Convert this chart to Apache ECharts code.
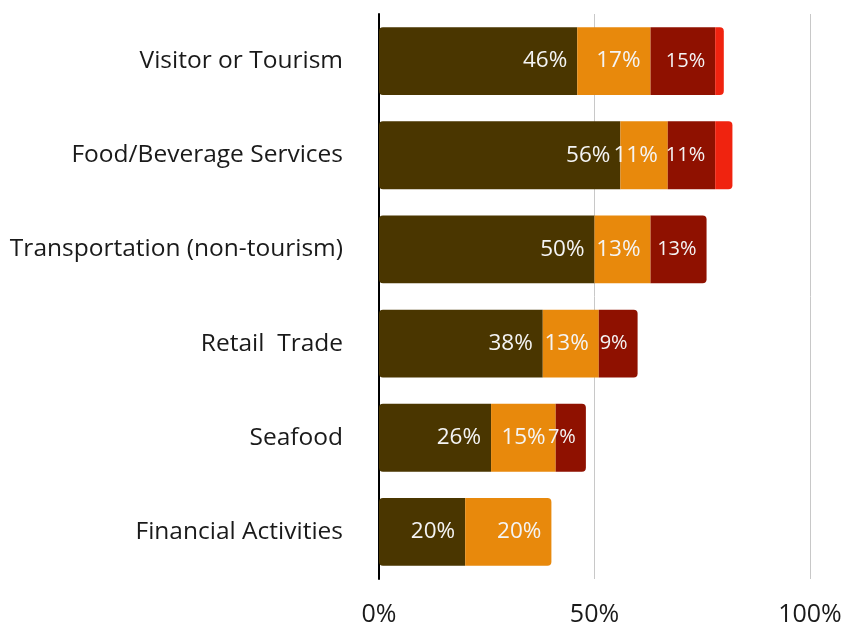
<!DOCTYPE html>
<html>
<head>
<meta charset="utf-8">
<script src="https://cdn.jsdelivr.net/npm/echarts@6/dist/echarts.min.js"></script>
<style>
  html, body { margin: 0; padding: 0; background: #fff; }
  #chart { width: 845px; height: 630px; }
</style>
</head>
<body>
<div id="chart"></div>
<script>
// 行业分类
const categories = ['Visitor or Tourism', 'Food/Beverage Services', 'Transportation (non-tourism)', 'Retail  Trade', 'Seafood', 'Financial Activities']
// 各分段数值(%)
const seg1 = [46, 56, 50, 38, 26, 20]
const seg2 = [17, 11, 13, 13, 15, 20]
const seg3 = [15, 11, 13, 9, 7, 0]
const seg4 = [2, 4, 0, 0, 0, 0]
const xTicks = [0, 50, 100]

const colors = ['#4a3600', '#e8890c', '#8f1100', '#f0230f']
const segs = [seg1, seg2, seg3, seg4]

const font = '"Open Sans", Lato, sans-serif'

// 每行最后一个非零分段加右圆角
function buildData(si) {
  return segs[si].map((v, i) => {
    let last = 0
    segs.forEach((s, k) => { if (s[i] > 0) last = k })
    let r = [si === 0 ? 4 : 0, si === last ? 4 : 0, si === last ? 4 : 0, si === 0 ? 4 : 0]
    return { value: v === 0 ? null : v, itemStyle: { borderRadius: r } }
  })
}

const series = segs.map((s, si) => ({
  type: 'bar',
  stack: 'total',
  barWidth: '72%',
  data: buildData(si),
  itemStyle: { color: colors[si] },
  label: {
    show: si < 3,
    position: 'insideRight',
    distance: 10,
    color: '#f4f4f4',
    fontSize: si === 2 ? 20 : 22.5,
    fontFamily: font,
    formatter: p => p.value ? p.value + '%' : ''
  },
  emphasis: { disabled: true }
}))

const chart = echarts.init(document.getElementById('chart'))
chart.setOption({
  animation: false,
  grid: { left: 379, right: 35, top: 14, bottom: 51 },
  xAxis: {
    type: 'value',
    min: 0,
    max: 100,
    interval: 50,
    axisLine: { show: false },
    axisTick: { show: false },
    splitLine: { lineStyle: { color: '#c8c8c8', width: 1 } },
    axisLabel: {
      margin: 23,
      fontSize: 25,
      color: '#1a1a1a',
      fontFamily: font,
      formatter: v => xTicks.indexOf(v) !== -1 ? v + '%' : ''
    }
  },
  yAxis: {
    type: 'category',
    inverse: true,
    data: categories,
    axisTick: { show: false },
    axisLine: { show: true, lineStyle: { color: '#000', width: 2 } },
    axisLabel: {
      margin: 36,
      padding: [4, 0, 0, 0],
      fontSize: 24.5,
      color: '#1a1a1a',
      fontFamily: font
    }
  },
  series: series
})
</script>
</body>
</html>
